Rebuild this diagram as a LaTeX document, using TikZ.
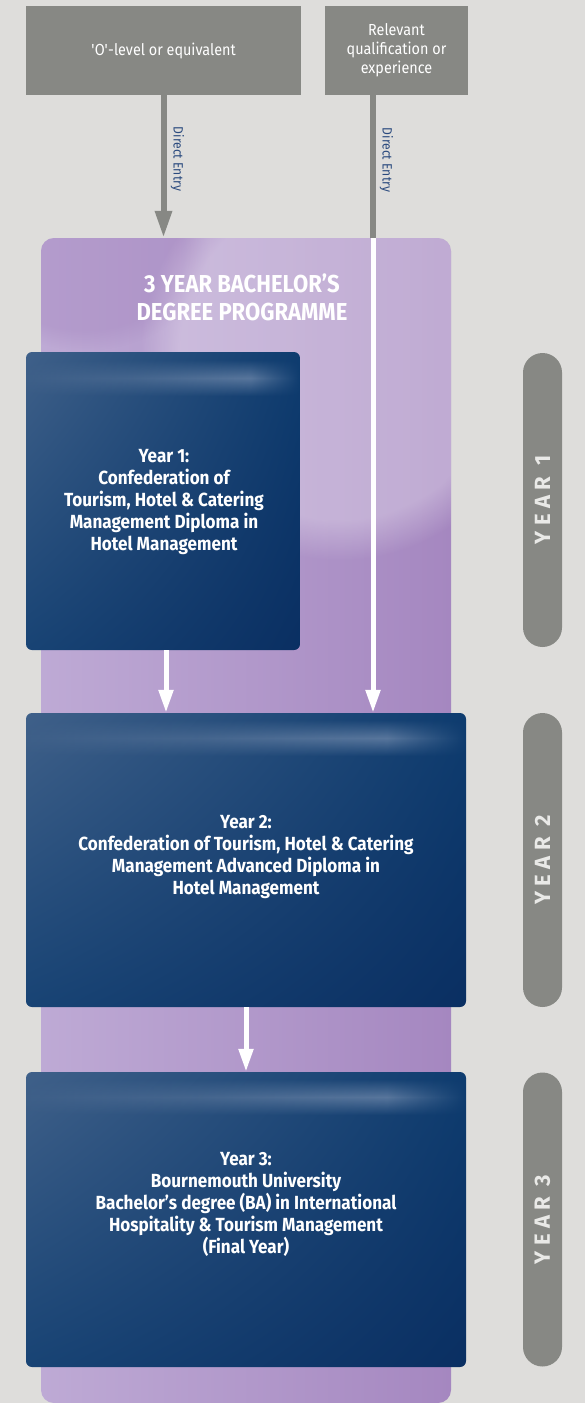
\documentclass[tikz,border=0pt]{standalone}
\usepackage{fontspec}
\setmainfont{Fira Sans}[FakeStretch=0.9]
\newfontfamily\tagfont{Fira Sans}[LetterSpace=25]
\usetikzlibrary{arrows.meta,fadings,shadings}

\definecolor{paper}{HTML}{DEDDDB}
\definecolor{stone}{HTML}{878884}
\definecolor{lilacD}{HTML}{A587C0}
\definecolor{lilacL}{HTML}{BEAAD5}
\definecolor{navyL}{HTML}{3F6089}
\definecolor{navyM}{HTML}{0E3C6F}
\definecolor{navyD}{HTML}{0A2F62}
\definecolor{navyS}{HTML}{8499B8}
\definecolor{inkblue}{HTML}{2A4A7E}
\definecolor{tagtext}{HTML}{E9E9E7}

\tikzfading[name=band, top color=transparent!100, bottom color=transparent!100,
  middle color=transparent!40]
\pgfdeclarehorizontalshading{streakshade}{100bp}{color(0bp)=(navyL);
  color(25bp)=(navyL); color(45bp)=(navyL!65!navyS); color(66bp)=(navyS);
  color(75bp)=(navyM); color(100bp)=(navyM)}

\tikzset{
  entrybox/.style={fill=stone, text=white, align=center, inner sep=0pt,
    minimum height=89pt, font=\fontsize{16}{19}\selectfont},
  entrylabel/.style={text=inkblue, rotate=-90, inner sep=0pt,
    font=\fontsize{13.5}{15}\selectfont},
  progband/.style={rounded corners=13pt, left color=lilacL,
    right color=lilacD, minimum width=410pt,
    minimum height=1165pt, inner sep=0pt},
  progtitle/.style={text=white, align=center,
    font=\fontsize{24.5}{28}\selectfont\bfseries},
  yearbox/.style={rounded corners=6pt, upper left=navyL, upper right=navyM,
    lower left=navyM!80!navyL, lower right=navyD, inner sep=0pt},
  yeartext/.style={text=white, align=center,
    font=\fontsize{19}{22}\selectfont\bfseries},
  yearpill/.style={fill=stone, rounded corners=19.5pt, rotate=90,
    minimum width=294pt, minimum height=39pt, inner sep=0pt, text=tagtext,
    font=\fontsize{22}{24}\tagfont\bfseries},
  glow/.style={fill opacity=#1,
    path fading=circle with fuzzy edge 20 percent},
  streak/.style={shading=streakshade, path fading=band},
  greyarrow/.style={draw=stone, line width=6pt,
    -{Triangle[length=27pt,width=16pt]}},
  whitearrow/.style={draw=white, line width=5pt,
    -{Triangle[length=23pt,width=14pt]}}
}

\begin{document}
\begin{tikzpicture}[x=1pt,y=-1pt]
  \fill[paper] (0,0) rectangle (585,1403);
  \useasboundingbox (0,0) rectangle (585,1403);

  % entry routes
  \node[entrybox, minimum width=275pt] (olevel) at (163.5,50.5) {\textquotesingle O\textquotesingle-level or equivalent};
  \node[entrybox, minimum width=143pt] (relqual) at (396.5,50.5) {Relevant\\qualification or\\experience};
  \coordinate (relout) at (373,95);

  % programme band
  \node[progband] (prog) at (246,820.5) {};
  \begin{scope}
    \clip[rounded corners=13pt] (41,238) rectangle (451,1403);
    \fill[lilacD, glow=0.4] (-40,150) rectangle (210,350);
    \fill[white, glow=0.3] (140,150) rectangle (540,560);
  \end{scope}
  \node[progtitle] (progtitle) at (242,297) {3 YEAR BACHELOR’S\\DEGREE PROGRAMME};

  % years
  \node[yearbox, minimum width=274pt, minimum height=298pt] (year1) at (163,501) {};
  \node[yearbox, minimum width=440pt, minimum height=294pt] (year2) at (246,860) {};
  \node[yearbox, minimum width=440pt, minimum height=295pt] (year3) at (246,1219.5) {};
  \begin{scope}
    \clip[rounded corners=6pt] (26,352) rectangle (300,650);
    \shade[streak] (26,360) rectangle (300,396);
  \end{scope}
  \begin{scope}
    \clip[rounded corners=6pt] (26,713) rectangle (466,1007);
    \shade[streak] (26,720) rectangle (466,756);
  \end{scope}
  \begin{scope}
    \clip[rounded corners=6pt] (26,1072) rectangle (466,1367);
    \shade[streak] (26,1079) rectangle (466,1115);
  \end{scope}

  \node[yeartext] (year1txt) at (164,502) {Year 1:\\Confederation of\\Tourism, Hotel \& Catering\\Management Diploma in\\Hotel Management};
  \node[yeartext] (year2txt) at (246,857) {Year 2:\\Confederation of Tourism, Hotel \& Catering\\Management Advanced Diploma in\\Hotel Management};
  \node[yeartext] (year3txt) at (246,1204.5) {Year 3:\\Bournemouth University\\Bachelor’s degree (BA) in International\\Hospitality \& Tourism Management\\(Final Year)};

  % year tags
  \node[yearpill] (tag1) at (542.5,500) {YEAR 1};
  \node[yearpill] (tag2) at (542.5,860) {YEAR 2};
  \node[yearpill] (tag3) at (542.5,1219.5) {YEAR 3};

  % connectors
  \draw[greyarrow] (olevel.south) -- (olevel.south |- prog.north);
  \draw[stone, line width=6pt] (relout) -- (relout |- prog.north);
  \draw[whitearrow] (relout |- prog.north) -- (relout |- year2.north);
  \draw[whitearrow] ([xshift=3pt]year1.south) -- ([xshift=3pt]year1.south |- year2.north);
  \draw[whitearrow] (year2.south) -- (year3.north);

  \node[entrylabel] (direct1) at (177.5,159) {Direct Entry};
  \node[entrylabel] (direct2) at (386.5,160) {Direct Entry};
\end{tikzpicture}
\end{document}
